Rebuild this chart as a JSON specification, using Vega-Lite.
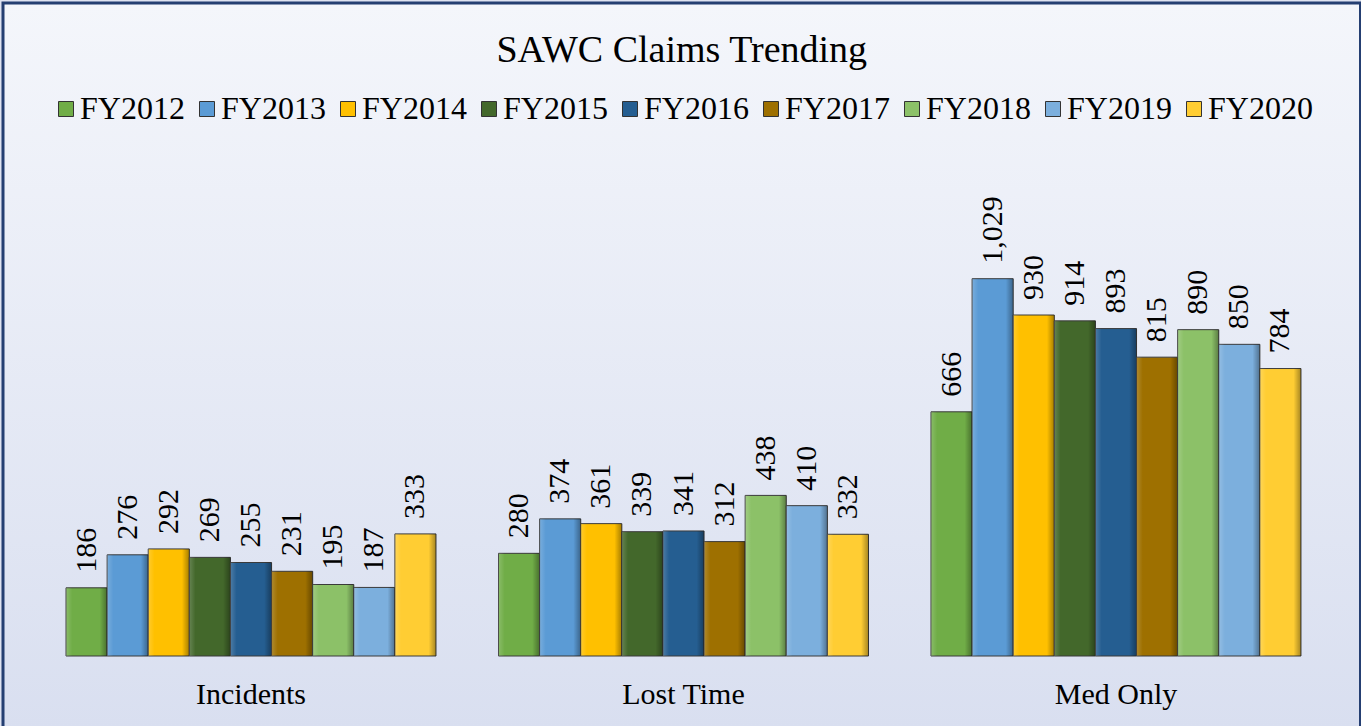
{
  "$schema": "https://vega.github.io/schema/vega-lite/v6.json",
  "width": 1357.5,
  "height": 726,
  "autosize": {"type": "none"},
  "padding": {"left": 3, "top": 3, "right": 0, "bottom": 0},
  "background": "#dfe3f1",
  "config": {
    "font": "Liberation Serif",
    "view": {
      "stroke": "#253f72",
      "strokeWidth": 3,
      "fill": {"gradient": "linear", "x1": 0, "y1": 0, "x2": 0, "y2": 1,
        "stops": [{"offset": 0, "color": "#f4f6fb"}, {"offset": 1, "color": "#d9dff0"}]}
    }
  },
  "title": {
    "text": "SAWC Claims Trending",
    "fontSize": 38,
    "font": "Liberation Serif",
    "fontWeight": "normal",
    "color": "black",
    "anchor": "middle",
    "frame": "group",
    "baseline": "alphabetic",
    "offset": -97
  },
  "data": {
    "values": [
      {"category": "Incidents", "fy": "FY2012", "value": 186},
      {"category": "Incidents", "fy": "FY2013", "value": 276},
      {"category": "Incidents", "fy": "FY2014", "value": 292},
      {"category": "Incidents", "fy": "FY2015", "value": 269},
      {"category": "Incidents", "fy": "FY2016", "value": 255},
      {"category": "Incidents", "fy": "FY2017", "value": 231},
      {"category": "Incidents", "fy": "FY2018", "value": 195},
      {"category": "Incidents", "fy": "FY2019", "value": 187},
      {"category": "Incidents", "fy": "FY2020", "value": 333},
      {"category": "Lost Time", "fy": "FY2012", "value": 280},
      {"category": "Lost Time", "fy": "FY2013", "value": 374},
      {"category": "Lost Time", "fy": "FY2014", "value": 361},
      {"category": "Lost Time", "fy": "FY2015", "value": 339},
      {"category": "Lost Time", "fy": "FY2016", "value": 341},
      {"category": "Lost Time", "fy": "FY2017", "value": 312},
      {"category": "Lost Time", "fy": "FY2018", "value": 438},
      {"category": "Lost Time", "fy": "FY2019", "value": 410},
      {"category": "Lost Time", "fy": "FY2020", "value": 332},
      {"category": "Med Only", "fy": "FY2012", "value": 666},
      {"category": "Med Only", "fy": "FY2013", "value": 1029},
      {"category": "Med Only", "fy": "FY2014", "value": 930},
      {"category": "Med Only", "fy": "FY2015", "value": 914},
      {"category": "Med Only", "fy": "FY2016", "value": 893},
      {"category": "Med Only", "fy": "FY2017", "value": 815},
      {"category": "Med Only", "fy": "FY2018", "value": 890},
      {"category": "Med Only", "fy": "FY2019", "value": 850},
      {"category": "Med Only", "fy": "FY2020", "value": 784}
    ]
  },
  "encoding": {
    "x": {
      "field": "category",
      "type": "nominal",
      "sort": ["Incidents", "Lost Time", "Med Only"],
      "scale": {"range": [31.75, 1329.25], "paddingInner": 0.1445, "paddingOuter": 0.0723},
      "axis": {
        "title": null,
        "domain": false,
        "ticks": false,
        "grid": false,
        "labelAngle": 0,
        "labelFont": "Liberation Serif",
        "labelFontSize": 30,
        "labelColor": "black",
        "labelBaseline": "alphabetic",
        "labelPadding": 47,
        "offset": -73
      }
    },
    "xOffset": {
      "field": "fy",
      "type": "nominal",
      "sort": ["FY2012", "FY2013", "FY2014", "FY2015", "FY2016", "FY2017", "FY2018", "FY2019", "FY2020"],
      "scale": {"paddingInner": 0, "paddingOuter": 0}
    },
    "y": {
      "field": "value",
      "type": "quantitative",
      "scale": {"domain": [0, 1200], "range": [653, 213], "nice": false, "zero": true},
      "axis": null
    }
  },
  "layer": [
    {
      "mark": {"type": "bar", "stroke": "#3a3a3a", "strokeWidth": 1},
      "encoding": {
        "color": {
          "field": "fy",
          "type": "nominal",
          "sort": ["FY2012", "FY2013", "FY2014", "FY2015", "FY2016", "FY2017", "FY2018", "FY2019", "FY2020"],
          "scale": {
            "domain": ["FY2012", "FY2013", "FY2014", "FY2015", "FY2016", "FY2017", "FY2018", "FY2019", "FY2020"],
            "range": ["#70ad47", "#5b9bd5", "#ffc000", "#43682b", "#255e91", "#9e7000", "#8cc168", "#7cafdd", "#ffcd33"]
          },
          "legend": {
            "orient": "none",
            "legendX": 47,
            "legendY": 90,
            "padding": 0,
            "direction": "horizontal",
            "columns": 9,
            "title": null,
            "symbolType": "square",
            "symbolSize": 225,
            "symbolStrokeColor": "#333333",
            "symbolStrokeWidth": 1,
            "symbolOpacity": 1,
            "labelFont": "Liberation Serif",
            "labelFontSize": 32,
            "labelColor": "black",
            "labelOffset": -2,
            "columnPadding": 6
          }
        }
      }
    },
    {
      "mark": {
        "type": "bar",
        "strokeWidth": 0,
        "fill": {
          "gradient": "linear", "x1": 0, "y1": 0, "x2": 1, "y2": 0,
          "stops": [
            {"offset": 0, "color": "rgba(255,255,255,0.18)"},
            {"offset": 0.15, "color": "rgba(255,255,255,0)"},
            {"offset": 0.82, "color": "rgba(0,0,0,0)"},
            {"offset": 1, "color": "rgba(0,0,0,0.35)"}
          ]
        }
      }
    },
    {
      "mark": {
        "type": "text",
        "angle": 270,
        "align": "left",
        "baseline": "middle",
        "dx": 15,
        "font": "Liberation Serif",
        "fontSize": 30,
        "color": "black"
      },
      "encoding": {
        "text": {"field": "value", "type": "quantitative", "format": ",d"}
      }
    }
  ]
}
